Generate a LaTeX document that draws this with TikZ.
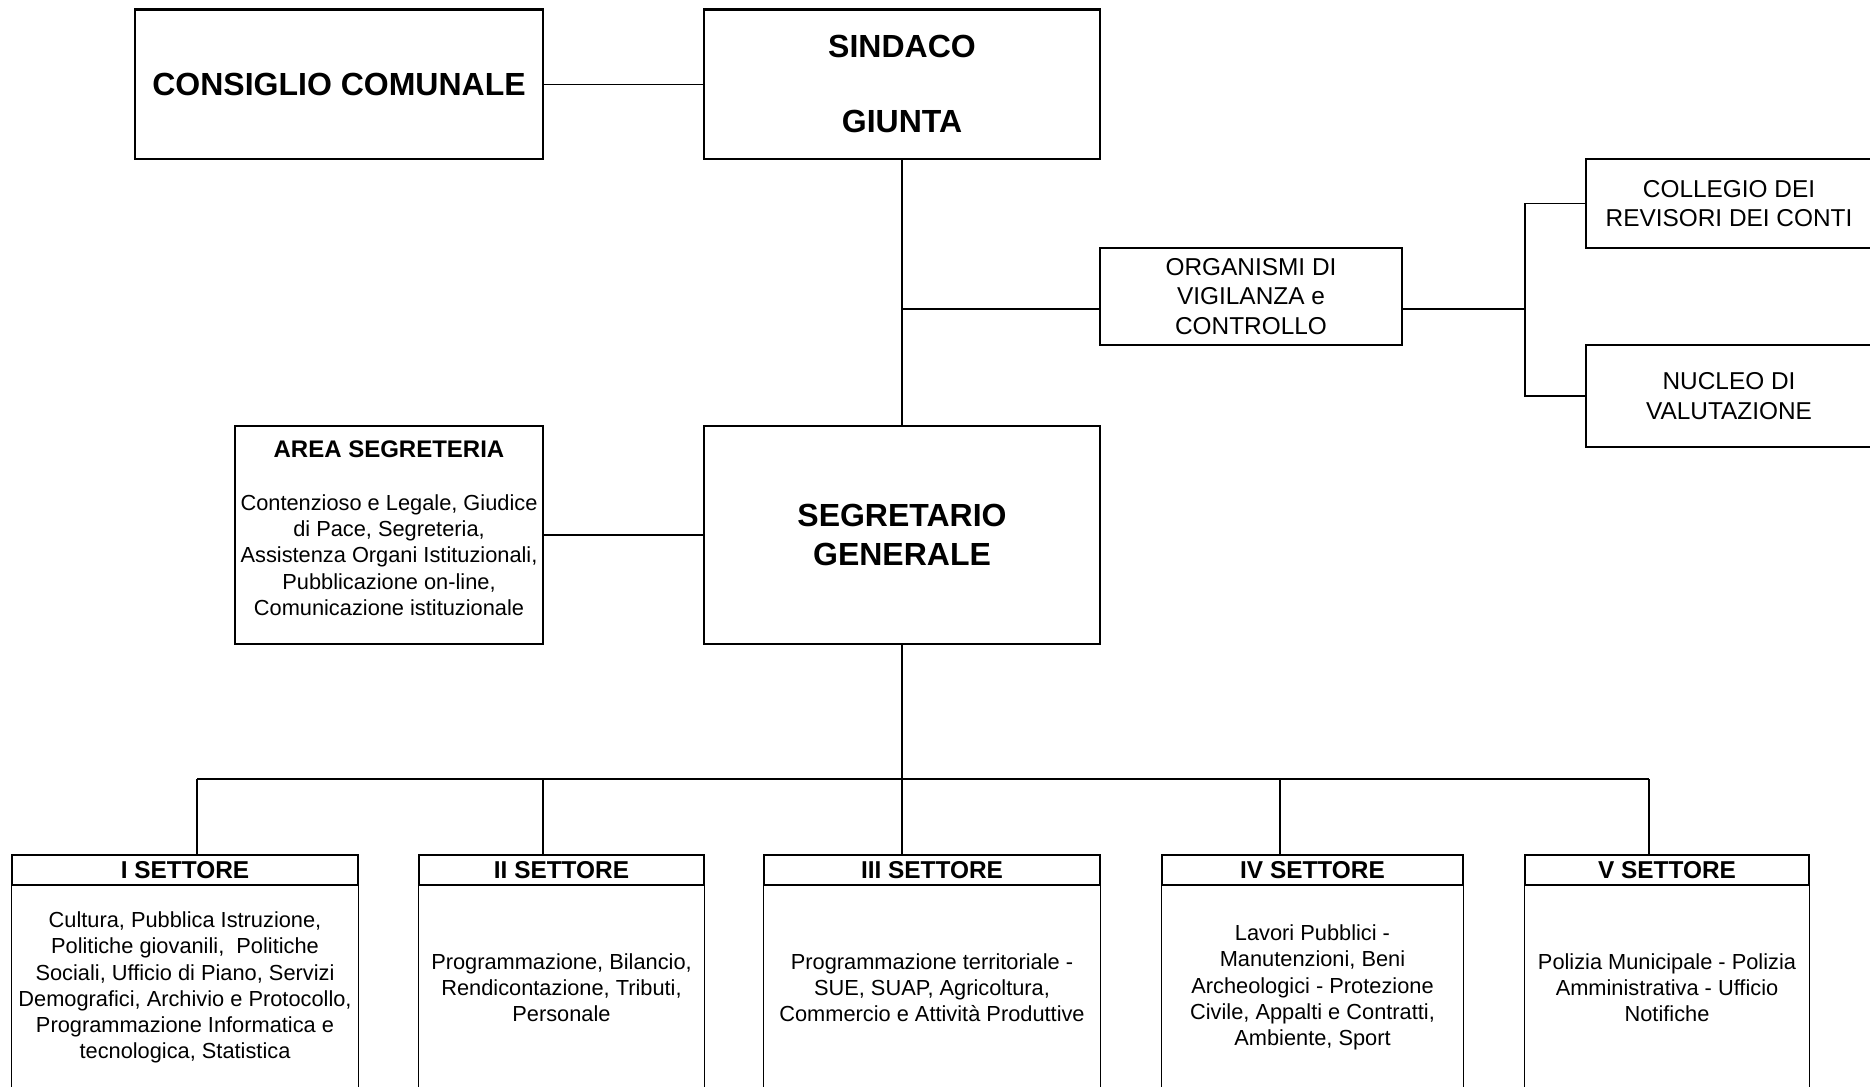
\documentclass[tikz,border=0pt]{standalone}
\usepackage{fontspec}
\setmainfont{Liberation Sans}
\begin{document}
\begin{tikzpicture}[x=1pt,y=-1pt,
  thickbox/.style={draw, line width=1.2pt, inner sep=0pt, align=center,
    font=\fontsize{16}{19.9}\selectfont\bfseries},
  thinbox/.style={draw, line width=0.6pt, inner sep=0pt, align=center},
  conn/.style={line width=0.6pt},
  bodytxt/.style={inner sep=0pt, align=center, font=\fontsize{10.9}{13.1}\selectfont},
  midtxt/.style={font=\fontsize{12.2}{14.7}\selectfont},
  sectitle/.style={thinbox, minimum height=15pt, font=\fontsize{12.2}{14}\selectfont\bfseries}]
\fill[white] (0,0) rectangle (935,543.5);
\clip (0,0) rectangle (935,543.5);

% top level
\node[thickbox, minimum width=204pt, minimum height=74.75pt] (cons) at (169.5,42.1) {CONSIGLIO COMUNALE};
\node[thickbox, minimum width=198pt, minimum height=74.75pt] (sind) at (451,42.1) {SINDACO\\[17.6pt]GIUNTA};

% control bodies
\node[thinbox, midtxt, minimum width=151pt, minimum height=48.5pt] (org) at (625.5,148.25) {ORGANISMI DI\\VIGILANZA e\\CONTROLLO};
\node[thinbox, midtxt, minimum width=143pt, minimum height=44.5pt] (coll) at (864.5,101.75) {COLLEGIO DEI\\REVISORI DEI CONTI};
\node[thinbox, midtxt, minimum width=143pt, minimum height=51pt] (nuc) at (864.5,198) {NUCLEO DI\\VALUTAZIONE};

% segretario
\node[thickbox, minimum width=198pt, minimum height=109pt] (seg) at (451,267.5) {SEGRETARIO\\GENERALE};
\node[thinbox, minimum width=154pt, minimum height=109pt] (area) at (194.5,267.5) {};
\node[bodytxt] (areatxt) at (194.5,264) {{\fontsize{12}{13.1}\selectfont\bfseries AREA SEGRETERIA}\\[13.6pt]Contenzioso e Legale, Giudice\\di Pace, Segreteria,\\Assistenza Organi Istituzionali,\\Pubblicazione on-line,\\Comunicazione istituzionale};

% settori
\node[sectitle, minimum width=173pt] (s1) at (92.5,435) {I SETTORE};
\node[sectitle, minimum width=142.5pt] (s2) at (280.75,435) {II SETTORE};
\node[sectitle, minimum width=168pt] (s3) at (466,435) {III SETTORE};
\node[sectitle, minimum width=150.5pt] (s4) at (656.25,435) {IV SETTORE};
\node[sectitle, minimum width=142pt] (s5) at (833.5,435) {V SETTORE};
\foreach \s in {s1,s2,s3,s4,s5}{
  \draw[conn] (\s.south west) -- ++(0,140);
  \draw[conn] (\s.south east) -- ++(0,140);
}
\node[bodytxt] (b1) at (92.5,493.75) {Cultura, Pubblica Istruzione,\\Politiche giovanili,\ \ Politiche\\Sociali, Ufficio di Piano, Servizi\\Demografici, Archivio e Protocollo,\\Programmazione Informatica e\\tecnologica, Statistica};
\node[bodytxt] (b2) at (280.75,493.75) {Programmazione, Bilancio,\\Rendicontazione, Tributi,\\Personale};
\node[bodytxt] (b3) at (466,493.75) {Programmazione territoriale -\\SUE, SUAP, Agricoltura,\\Commercio e Attività Produttive};
\node[bodytxt] (b4) at (656.25,493.75) {Lavori Pubblici -\\Manutenzioni, Beni\\Archeologici - Protezione\\Civile, Appalti e Contratti,\\Ambiente, Sport};
\node[bodytxt] (b5) at (833.5,493.75) {Polizia Municipale - Polizia\\Amministrativa - Ufficio\\Notifiche};

% connectors
\draw[conn] (cons.east) -- (sind.west);
\draw[conn] (sind.south) -- (seg.north);
\coordinate (j1) at (451,154.5);
\coordinate (j2) at (762.5,154.5);
\draw[conn] (j1) -- (j1 -| org.west);
\draw[conn] (j2 -| org.east) -- (j2);
\draw[conn] (coll.west) -| (j2) |- (nuc.west);
\draw[conn] (area.east) -- (seg.west);
\coordinate (bus) at (451,389.5);
\draw[conn] (seg.south) -- (bus);
\coordinate (d1) at (98.5,389.5);
\coordinate (d2) at (271.5,389.5);
\coordinate (d3) at (451,389.5);
\coordinate (d4) at (640,389.5);
\coordinate (d5) at (824.5,389.5);
\draw[conn] (d1) -- (d5);
\draw[conn] (d1) -- (d1 |- s1.north);
\draw[conn] (d2) -- (d2 |- s2.north);
\draw[conn] (d3) -- (d3 |- s3.north);
\draw[conn] (d4) -- (d4 |- s4.north);
\draw[conn] (d5) -- (d5 |- s5.north);
\end{tikzpicture}
\end{document}
